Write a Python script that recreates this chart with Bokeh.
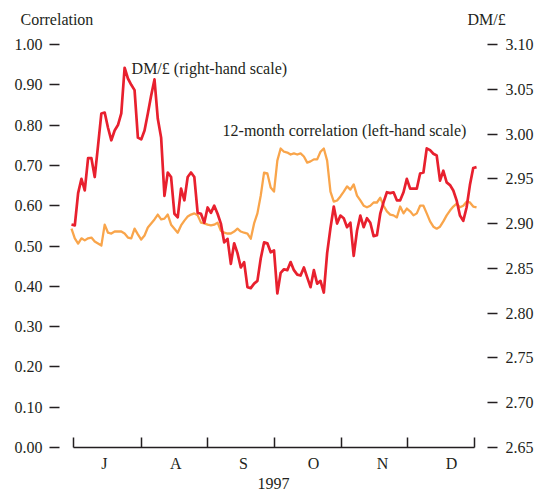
from bokeh.plotting import figure
from bokeh.models import LinearAxis, Range1d, FixedTicker, PrintfTickFormatter, Label
from bokeh.embed import file_html
from bokeh.resources import INLINE

# ---- data ----
trading_day = list(range(123))

correlation = [
    0.543, 0.519, 0.506, 0.519, 0.514, 0.519, 0.521, 0.511, 0.506, 0.501,
    0.553, 0.533, 0.531, 0.536, 0.536, 0.536, 0.531, 0.521, 0.519, 0.543,
    0.529, 0.516, 0.526, 0.546, 0.556, 0.566, 0.578, 0.566, 0.568, 0.578,
    0.553, 0.543, 0.533, 0.551, 0.563, 0.573, 0.578, 0.581, 0.576, 0.558,
    0.556, 0.553, 0.551, 0.553, 0.558, 0.538, 0.533, 0.531, 0.531, 0.536,
    0.543, 0.536, 0.533, 0.531, 0.518, 0.556, 0.581, 0.625, 0.682, 0.680,
    0.645, 0.635, 0.712, 0.742, 0.734, 0.732, 0.727, 0.730, 0.727, 0.730,
    0.722, 0.707, 0.710, 0.715, 0.715, 0.734, 0.742, 0.712, 0.635, 0.610,
    0.613, 0.623, 0.635, 0.648, 0.640, 0.653, 0.625, 0.613, 0.600, 0.596,
    0.600, 0.608, 0.608, 0.620, 0.600, 0.586, 0.578, 0.576, 0.571, 0.598,
    0.581, 0.593, 0.586, 0.576, 0.581, 0.600, 0.600, 0.581, 0.561, 0.548,
    0.543, 0.548, 0.561, 0.576, 0.588, 0.598, 0.605, 0.596, 0.600, 0.610,
    0.608, 0.598, 0.596,
]

dm_per_pound = [
    2.899, 2.898, 2.934, 2.950, 2.937, 2.973, 2.973, 2.952, 2.987, 3.023,
    3.024, 3.007, 2.993, 3.004, 3.010, 3.023, 3.074, 3.062, 3.055, 3.049,
    2.996, 2.994, 3.004, 3.023, 3.043, 3.061, 3.017, 2.996, 2.931, 2.957,
    2.952, 2.911, 2.907, 2.939, 2.926, 2.952, 2.957, 2.952, 2.912, 2.911,
    2.901, 2.918, 2.912, 2.920, 2.911, 2.900, 2.879, 2.883, 2.855, 2.878,
    2.867, 2.851, 2.857, 2.829, 2.828, 2.833, 2.836, 2.861, 2.879, 2.878,
    2.868, 2.870, 2.822, 2.845, 2.849, 2.848, 2.857, 2.848, 2.843, 2.842,
    2.851, 2.840, 2.829, 2.848, 2.833, 2.836, 2.823, 2.867, 2.895, 2.919,
    2.900, 2.909, 2.906, 2.896, 2.901, 2.864, 2.892, 2.909, 2.896, 2.906,
    2.901, 2.886, 2.887, 2.911, 2.924, 2.935, 2.934, 2.935, 2.926, 2.926,
    2.935, 2.950, 2.939, 2.939, 2.939, 2.956, 2.957, 2.984, 2.982, 2.978,
    2.976, 2.948, 2.959, 2.946, 2.943, 2.937, 2.926, 2.909, 2.903, 2.918,
    2.943, 2.962, 2.963,
]

months = ["J", "A", "S", "O", "N", "D"]
month_centers = [9.9, 31.4, 51.8, 72.9, 93.7, 114.5]
month_bounds = [0.6, 21.1, 41.0, 61.1, 81.3, 101.2, 121.4]
corr_ticks = [0.0, 0.1, 0.2, 0.3, 0.4, 0.5, 0.6, 0.7, 0.8, 0.9, 1.0]
dm_ticks = [2.65, 2.70, 2.75, 2.80, 2.85, 2.90, 2.95, 3.00, 3.05, 3.10]
year_text = "1997"
left_title = "Correlation"
right_title = "DM/£"
dm_note = "DM/£ (right-hand scale)"
corr_note = "12-month correlation (left-hand scale)"

# ---- styling ----
FONT = "Liberation Serif"
FS = "16px"
TXT = "#231f20"
RED = "#e8202e"
ORANGE = "#f9a54b"

p = figure(width=542, height=492, output_backend="svg", toolbar_location=None,
           x_range=Range1d(-3.61, 125.3), y_range=Range1d(0, 1.0199),
           x_axis_location=None, y_axis_location=None,
           min_border_left=59, min_border_right=55,
           min_border_top=36, min_border_bottom=45)
p.extra_y_ranges = {"dm": Range1d(2.65, 3.1089)}
p.outline_line_color = None
p.xgrid.visible = False
p.ygrid.visible = False
p.background_fill_color = "white"

axis_common = dict(major_label_text_font=FONT, major_label_text_font_size=FS,
                   major_label_text_color=TXT)

ly = LinearAxis(ticker=FixedTicker(ticks=corr_ticks),
                formatter=PrintfTickFormatter(format="%.2f"),
                axis_line_color=None, major_tick_in=0, major_tick_out=10,
                minor_tick_line_color=None, major_tick_line_color=TXT,
                major_tick_line_width=1.5, major_label_standoff=7, **axis_common)
p.add_layout(ly, "left")

ry = LinearAxis(y_range_name="dm", ticker=FixedTicker(ticks=dm_ticks),
                formatter=PrintfTickFormatter(format="%.2f"),
                axis_line_color=None, major_tick_in=0, major_tick_out=10,
                minor_tick_line_color=None, major_tick_line_color=TXT,
                major_tick_line_width=1.5, major_label_standoff=8, **axis_common)
p.add_layout(ry, "right")

bx = LinearAxis(ticker=FixedTicker(ticks=month_centers, minor_ticks=month_bounds),
                major_label_overrides={c: m for c, m in zip(month_centers, months)},
                bounds=(month_bounds[0] - 0.02, month_bounds[-1] + 0.02),
                major_tick_in=0, major_tick_out=0,
                minor_tick_in=10, minor_tick_out=0,
                minor_tick_line_color=TXT, minor_tick_line_width=1.5,
                axis_line_color=TXT, axis_line_width=1.5,
                major_label_standoff=7,
                axis_label=year_text, axis_label_standoff=3,
                axis_label_text_font=FONT, axis_label_text_font_size=FS,
                axis_label_text_font_style="normal", axis_label_text_color=TXT,
                **axis_common)
p.add_layout(bx, "below")

p.line(trading_day, correlation, color=ORANGE, line_width=2.3, line_join="round")
p.line(trading_day, dm_per_pound, y_range_name="dm", color=RED, line_width=2.7,
       line_join="round")

lab = dict(text_font=FONT, text_font_size=FS, text_color=TXT, text_baseline="middle")
p.add_layout(Label(x=18.1, y=0.940, text=dm_note, **lab))
p.add_layout(Label(x=45.5, y=0.787, text=corr_note, **lab))
# headers sit above the frame: put them in the top panel, canvas units
p.add_layout(Label(x=20, y=19, x_units="canvas", y_units="canvas",
                   text=left_title, **lab), "above")
p.add_layout(Label(x=467, y=19, x_units="canvas", y_units="canvas",
                   text=right_title, **lab), "above")

open("out.html", "w").write(file_html(p, INLINE))
